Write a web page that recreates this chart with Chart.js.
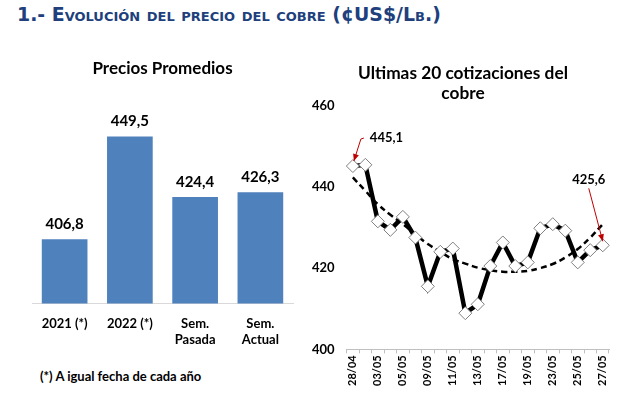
<!DOCTYPE html>
<html>
<head>
<meta charset="utf-8">
<script src="https://cdn.jsdelivr.net/npm/chart.js@4.4.0/dist/chart.umd.min.js"></script>
<style>
  body { margin: 0; background: #fff; width: 626px; height: 404px; position: relative; overflow: hidden; }
  #header { position: absolute; left: 17px; top: 3px; font: bold 18.9px "DejaVu Sans", Verdana, sans-serif; font-variant: small-caps; color: #203f7c; white-space: nowrap; }
  #barCanvas { position: absolute; left: 0; top: 40px; }
  #lineCanvas { position: absolute; left: 300px; top: 40px; }
  #lineTitle { position: absolute; left: 300px; top: 63px; width: 326px; text-align: center; font: bold 17.3px Lato, sans-serif; line-height: 20px; color: #000; }
  #note { position: absolute; left: 40px; top: 368px; font: bold 13px Lato, sans-serif; color: #000; white-space: nowrap; }
</style>
</head>
<body>
<div id="header">1.- Evolución del precio del cobre (¢US$/Lb.)</div>
<canvas id="barCanvas" width="305" height="322"></canvas>
<canvas id="lineCanvas" width="326" height="364"></canvas>
<div id="lineTitle">Ultimas 20 cotizaciones del<br>cobre</div>
<div id="note">(*) A igual fecha de cada año</div>
<script>
const barLabels = ['2021 (*)', '2022 (*)', ['Sem.', 'Pasada'], ['Sem.', 'Actual']];
const barValues = [406.8, 449.5, 424.4, 426.3];

const dates = ['28/04', '29/04', '03/05', '04/05', '05/05', '06/05', '09/05', '10/05', '11/05', '12/05',
  '13/05', '16/05', '17/05', '18/05', '19/05', '20/05', '23/05', '24/05', '25/05', '26/05', '27/05'];
const prices = [445.1, 445.4, 431.5, 429.4, 432.6, 427.5, 415.5, 424.0, 424.8, 408.9,
  411.1, 420.5, 426.3, 420.5, 421.4, 429.8, 430.8, 429.2, 421.4, 424.4, 425.6];
const trend = [442.3, 439.0, 435.7, 433.1, 430.8, 428.3, 425.9, 424.0, 422.2, 421.1,
  420.1, 419.5, 419.1, 419.1, 419.3, 420.0, 421.0, 422.6, 424.7, 427.5, 430.8];
const yTicks = [400, 420, 440, 460];

Chart.defaults.font.family = 'Lato, sans-serif';
Chart.defaults.color = '#000';
Chart.defaults.animation = false;

const fmt = (v) => v.toFixed(1).replace('.', ',');

const barValueLabels = {
  id: 'barValueLabels',
  afterDatasetsDraw(chart) {
    const ctx = chart.ctx;
    ctx.save();
    ctx.font = 'bold 15px Lato, sans-serif';
    ctx.fillStyle = '#000';
    ctx.textAlign = 'center';
    ctx.textBaseline = 'middle';
    chart.getDatasetMeta(0).data.forEach((bar, i) => {
      ctx.fillText(fmt(barValues[i]), bar.x, bar.y - 15);
    });
    ctx.restore();
  }
};

new Chart(document.getElementById('barCanvas'), {
  type: 'bar',
  data: {
    labels: barLabels,
    datasets: [{
      data: barValues,
      backgroundColor: '#4F81BD',
      barPercentage: 0.7,
      categoryPercentage: 1
    }]
  },
  options: {
    responsive: false,
    layout: { padding: { left: 32, right: 12, top: 0, bottom: 2 } },
    plugins: {
      legend: { display: false },
      tooltip: { enabled: false },
      title: {
        display: true,
        text: 'Precios Promedios',
        color: '#000',
        font: { size: 17, weight: 'bold' },
        padding: { top: 18, bottom: 9 }
      }
    },
    scales: {
      x: {
        grid: { display: false, drawTicks: false },
        border: { display: true, color: '#d9d9d9' },
        ticks: { font: { size: 13, weight: 'bold', lineHeight: 1.25 }, padding: 12, color: '#000' }
      },
      y: { display: false, min: 380, max: 470 }
    }
  },
  plugins: [barValueLabels]
});

function arrowTo(ctx, pts) {
  ctx.beginPath();
  ctx.moveTo(pts[0][0], pts[0][1]);
  for (let i = 1; i < pts.length; i++) ctx.lineTo(pts[i][0], pts[i][1]);
  ctx.stroke();
  const [x1, y1] = pts[pts.length - 2];
  const [x2, y2] = pts[pts.length - 1];
  const a = Math.atan2(y2 - y1, x2 - x1);
  ctx.beginPath();
  ctx.moveTo(x2, y2);
  ctx.lineTo(x2 - 7 * Math.cos(a) + 3 * Math.sin(a), y2 - 7 * Math.sin(a) - 3 * Math.cos(a));
  ctx.lineTo(x2 - 7 * Math.cos(a) - 3 * Math.sin(a), y2 - 7 * Math.sin(a) + 3 * Math.cos(a));
  ctx.closePath();
  ctx.fill();
}

const callouts = {
  id: 'callouts',
  afterDatasetsDraw(chart) {
    const ctx = chart.ctx;
    const pts = chart.getDatasetMeta(0).data;
    const first = pts[0];
    const last = pts[pts.length - 1];
    ctx.save();
    ctx.strokeStyle = '#c00000';
    ctx.fillStyle = '#c00000';
    ctx.lineWidth = 1;
    arrowTo(ctx, [[first.x + 11, first.y - 28], [first.x + 8, first.y - 27], [first.x + 1, first.y - 5]]);
    arrowTo(ctx, [[last.x - 14, last.y - 57], [last.x, last.y - 4]]);
    ctx.font = 'bold 13px Lato, sans-serif';
    ctx.fillStyle = '#000';
    ctx.textBaseline = 'middle';
    ctx.textAlign = 'left';
    ctx.fillText(fmt(prices[0]), first.x + 17, first.y - 28);
    ctx.textAlign = 'center';
    ctx.fillText(fmt(prices[prices.length - 1]), last.x - 14, last.y - 65);
    ctx.restore();
  }
};

new Chart(document.getElementById('lineCanvas'), {
  type: 'line',
  data: {
    labels: dates,
    datasets: [
      {
        data: prices,
        borderColor: '#000',
        borderWidth: 4.5,
        tension: 0,
        pointStyle: 'rectRot',
        pointRadius: 6.5,
        pointBackgroundColor: '#fff',
        pointBorderColor: '#7f7f7f',
        pointBorderWidth: 1
      },
      {
        data: trend,
        borderColor: '#000',
        borderWidth: 2.5,
        borderDash: [6, 4],
        tension: 0.4,
        pointRadius: 0
      }
    ]
  },
  options: {
    responsive: false,
    layout: { padding: { left: 0, right: 17, top: 65.5, bottom: 16 } },
    plugins: {
      legend: { display: false },
      tooltip: { enabled: false }
    },
    scales: {
      x: {
        offset: true,
        grid: { display: true, drawOnChartArea: false, offset: true, tickLength: 4, color: '#bfbfbf' },
        border: { display: true, color: '#bfbfbf' },
        ticks: {
          autoSkip: false,
          maxRotation: 90,
          minRotation: 90,
          padding: 2,
          color: '#000',
          font: { size: 11, weight: 'bold' },
          callback: (v, i) => (i % 2 === 0 ? dates[i] : '')
        }
      },
      y: {
        min: yTicks[0],
        max: yTicks[yTicks.length - 1],
        afterBuildTicks: (axis) => { axis.ticks = yTicks.map((v) => ({ value: v })); },
        grid: { display: false, drawTicks: false },
        border: { display: false },
        ticks: { font: { size: 13, weight: 'bold' }, padding: 12, color: '#000' }
      }
    }
  },
  plugins: [callouts]
});
</script>
</body>
</html>
